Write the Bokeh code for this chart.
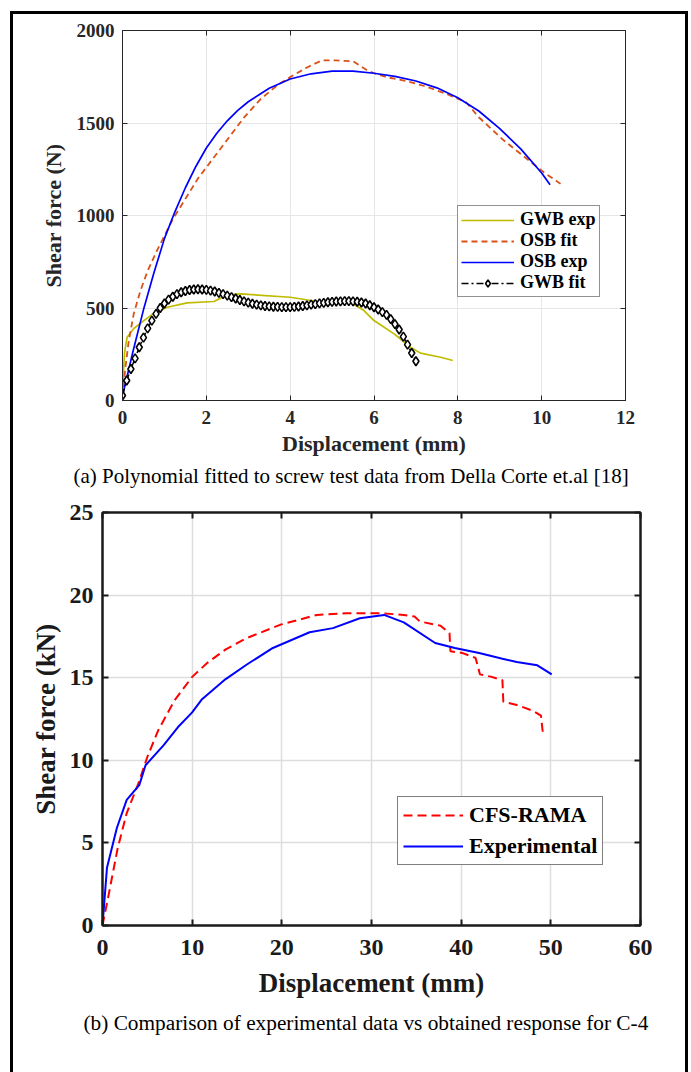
from bokeh.plotting import figure
from bokeh.models import Range1d, FixedTicker, LinearAxis, Legend, LegendItem, Title
from bokeh.layouts import column
from bokeh.embed import file_html
from bokeh.resources import INLINE

FONT = "Liberation Serif"

# ---------------- data: panel (a) ----------------
a_x_ticks = [0, 2, 4, 6, 8, 10, 12]
a_y_ticks = [0, 500, 1000, 1500, 2000]

gwb_exp_x = [0, 0.05, 0.11, 0.27, 0.51, 0.75, 1.07, 1.54, 2.18, 2.5, 2.82, 4.0, 4.65, 5.44, 5.76, 6.0, 6.48, 6.87, 7.11, 7.59, 7.88]
gwb_exp_y = [60, 260, 342, 389, 432, 472, 504, 528, 535, 571, 576, 558, 535, 531, 486, 432, 360, 288, 256, 234, 216]

osb_fit_x = [0, 0.07, 0.15, 0.27, 0.43, 0.6, 0.8, 1.0, 1.2, 1.5, 1.8, 2.0, 2.4, 2.9, 3.3, 3.7, 4.0, 4.4, 4.75, 5.1, 5.5,
             5.8, 6.0, 6.3, 6.8, 7.2, 7.7, 8.2, 8.5, 9.1, 9.7, 10.05, 10.45]
osb_fit_y = [20, 180, 324, 470, 595, 700, 800, 890, 980, 1090, 1200, 1260, 1380, 1530, 1630, 1705, 1748, 1800, 1838, 1838, 1834,
             1790, 1769, 1748, 1725, 1700, 1660, 1612, 1531, 1405, 1297, 1234, 1171]

osb_exp_x = [0, 0.25, 0.5, 0.75, 1.0, 1.25, 1.5, 1.75, 2.0, 2.25, 2.5, 2.75, 3.0, 3.5, 4.0, 4.5, 5.0, 5.5, 6.0, 6.5, 7.0,
             7.5, 8.0, 8.5, 9.0, 9.5, 10.0, 10.2]
osb_exp_y = [25, 265, 490, 690, 875, 1020, 1150, 1265, 1365, 1445, 1512, 1568, 1615, 1688, 1738, 1766, 1780, 1780, 1769,
             1752, 1727, 1690, 1636, 1565, 1470, 1360, 1230, 1166]

gwb_fit_x = [0.0, 0.1, 0.2, 0.3, 0.4, 0.5, 0.6, 0.7, 0.8, 0.9, 1.0, 1.1, 1.2, 1.3, 1.4, 1.5, 1.6, 1.7, 1.8, 1.9, 2.0,
             2.1, 2.2, 2.3, 2.4, 2.5, 2.6, 2.7, 2.8, 2.9, 3.0, 3.1, 3.2, 3.3, 3.4, 3.5, 3.6, 3.7, 3.8, 3.9, 4.0,
             4.1, 4.2, 4.3, 4.4, 4.5, 4.6, 4.7, 4.8, 4.9, 5.0, 5.1, 5.2, 5.3, 5.4, 5.5, 5.6, 5.7, 5.8, 5.9, 6.0,
             6.1, 6.2, 6.3, 6.4, 6.5, 6.6, 6.7, 6.8, 6.9, 7.0]
gwb_fit_y = [27, 108, 170, 228, 288, 340, 390, 432, 468, 500, 524, 545, 561, 575, 585, 592, 597, 600, 601, 600, 598,
             594, 589, 582, 575, 567, 559, 551, 543, 536, 529, 523, 518, 514, 511, 509, 507, 506, 505, 505, 505,
             506, 508, 511, 514, 518, 521, 525, 528, 531, 533, 535, 536, 537, 537, 536, 534, 530, 524, 515, 504,
             492, 478, 463, 440, 413, 384, 345, 302, 257, 212]

# ---------------- data: panel (b) ----------------
b_x_ticks = [0, 10, 20, 30, 40, 50, 60]
b_y_ticks = [0, 5, 10, 15, 20, 25]

exp_x = [0, 0.5, 1.6, 2.7, 4.1, 4.8, 6.8, 8.4, 10.0, 11.1, 13.7, 16.1, 19.0, 23.1, 25.7, 28.7, 31.4, 33.6, 37.1, 39.3,
         42.0, 44.6, 46.2, 48.5, 50.1]
exp_y = [0, 3.5, 5.9, 7.6, 8.5, 9.7, 10.9, 12.0, 12.9, 13.7, 14.9, 15.8, 16.8, 17.75, 18.0, 18.6, 18.8, 18.35, 17.1, 16.8,
         16.5, 16.15, 15.95, 15.75, 15.2]

rama_x = [0, 0.7, 1.7, 2.7, 4.0, 5.0, 6.2, 8.0, 10.0, 11.7, 13.7, 16.1, 19.8, 23.9, 27.1, 31.2, 33.6, 34.8, 35.4, 37.7,
          38.7, 38.8, 40.1, 41.6, 42.1, 43.4, 44.6, 44.7, 46.2, 48.0, 48.9, 49.1]
rama_y = [0, 1.9, 4.7, 6.8, 8.6, 10.2, 11.8, 13.6, 15.05, 15.9, 16.7, 17.4, 18.2, 18.8, 18.9, 18.9, 18.8, 18.7, 18.4, 18.15,
          17.7, 16.6, 16.5, 16.2, 15.2, 15.05, 14.85, 13.55, 13.35, 13.0, 12.7, 11.7]

caption_a = "(a) Polynomial fitted to screw test data from Della Corte et.al [18]"
caption_b = "(b) Comparison of experimental data vs obtained response for C-4"


def frame_axes(p, xt, yt, color, lw, tick_size, label_size, tick_len, xstand, ystand, xlab_stand, ylab_stand):
    p.xaxis.ticker = FixedTicker(ticks=xt)
    p.yaxis.ticker = FixedTicker(ticks=yt)
    p.xgrid.ticker = FixedTicker(ticks=xt)
    p.ygrid.ticker = FixedTicker(ticks=yt)
    for ax in (p.xaxis[0], p.yaxis[0]):
        ax.axis_line_color = color
        ax.axis_line_width = lw
        ax.major_tick_line_color = color
        ax.major_tick_line_width = lw
        ax.major_tick_in = tick_len
        ax.major_tick_out = 0
        ax.minor_tick_line_color = None
        ax.major_label_text_font = FONT
        ax.major_label_text_font_style = "bold"
        ax.major_label_text_font_size = tick_size
        ax.major_label_text_color = color
        ax.axis_label_text_font = FONT
        ax.axis_label_text_font_style = "bold"
        ax.axis_label_text_font_size = label_size
        ax.axis_label_text_color = color
    p.xaxis[0].major_label_standoff = xstand
    p.yaxis[0].major_label_standoff = ystand
    p.xaxis[0].axis_label_standoff = xlab_stand
    p.yaxis[0].axis_label_standoff = ylab_stand
    top = LinearAxis(ticker=FixedTicker(ticks=xt))
    right = LinearAxis(ticker=FixedTicker(ticks=yt))
    for ax in (top, right):
        ax.axis_line_color = color
        ax.axis_line_width = lw
        ax.major_tick_line_color = color
        ax.major_tick_line_width = lw
        ax.major_tick_in = tick_len
        ax.major_tick_out = 0
        ax.minor_tick_line_color = None
        ax.major_label_text_font_size = "1px"
        ax.major_label_text_color = None
        ax.major_label_standoff = 0
    p.add_layout(top, "above")
    p.add_layout(right, "right")
    p.outline_line_color = color
    p.outline_line_width = lw


# ---------------- figure (a) ----------------
p1 = figure(width=672, height=481, output_backend="svg", toolbar_location=None,
            x_range=Range1d(0, 12), y_range=Range1d(0, 2000),
            min_border_left=109, min_border_right=60, min_border_top=16, min_border_bottom=95,
            x_axis_label="Displacement (mm)", y_axis_label="Shear force (N)")
p1.background_fill_color = "white"
p1.border_fill_color = "white"
frame_axes(p1, a_x_ticks, a_y_ticks, "#262626", 1, "19px", "22px", 5, 10, 8, 4, 8)
p1.grid.grid_line_color = "#E6E6E6"
p1.grid.grid_line_width = 1

r_gwb_exp = p1.line(gwb_exp_x, gwb_exp_y, line_color="#BFBC00", line_width=1.7)
r_osb_fit = p1.line(osb_fit_x, osb_fit_y, line_color="#D95319", line_width=1.8, line_dash="6 4")
r_osb_exp = p1.line(osb_exp_x, osb_exp_y, line_color="#0000FF", line_width=1.7)
r_gwb_fit_l = p1.line(gwb_fit_x, gwb_fit_y, line_color="black", line_width=1.5, line_dash="7 3 2 3")
r_gwb_fit_m = p1.scatter(gwb_fit_x, gwb_fit_y, marker="diamond", size=9, fill_color="white",
                         line_color="black", line_width=1.6)

leg1 = Legend(items=[
    LegendItem(label="GWB exp", renderers=[r_gwb_exp]),
    LegendItem(label="OSB fit", renderers=[r_osb_fit]),
    LegendItem(label="OSB exp", renderers=[r_osb_exp]),
    LegendItem(label="GWB fit", renderers=[r_gwb_fit_l, r_gwb_fit_m]),
], location=(335, 103))
leg1.label_text_font = FONT
leg1.label_text_font_style = "bold"
leg1.label_text_font_size = "18px"
leg1.label_text_color = "black"
leg1.glyph_width = 53
leg1.glyph_height = 18
leg1.label_height = 18
leg1.spacing = -4
leg1.padding = 3
leg1.margin = 0
leg1.label_standoff = 6
leg1.border_line_color = "#262626"
leg1.border_line_width = 1
leg1.background_fill_color = "white"
leg1.background_fill_alpha = 1
p1.add_layout(leg1, "center")

p1.add_layout(Title(text=caption_a, align="left", offset=-49, text_font=FONT, text_font_size="21px",
                    text_font_style="normal", text_color="black", standoff=6), "below")

# ---------------- figure (b) ----------------
p2 = figure(width=672, height=577, output_backend="svg", toolbar_location=None,
            x_range=Range1d(0, 60), y_range=Range1d(0, 25),
            min_border_left=89, min_border_right=45, min_border_top=17, min_border_bottom=147,
            x_axis_label="Displacement (mm)", y_axis_label="Shear force (kN)")
p2.background_fill_color = "white"
p2.border_fill_color = "white"
frame_axes(p2, b_x_ticks, b_y_ticks, "#1a1a1a", 2, "24px", "27px", 6, 14, 9, 10, 6)
p2.grid.grid_line_color = "#DDDDDD"
p2.grid.grid_line_width = 1.5

r_rama = p2.line(rama_x, rama_y, line_color="#FF0000", line_width=2, line_dash="9 5")
r_exp = p2.line(exp_x, exp_y, line_color="#0000FF", line_width=2)

leg2 = Legend(items=[
    LegendItem(label="CFS-RAMA", renderers=[r_rama]),
    LegendItem(label="Experimental", renderers=[r_exp]),
], location=(295, 60))
leg2.label_text_font = FONT
leg2.label_text_font_style = "bold"
leg2.label_text_font_size = "22px"
leg2.label_text_color = "black"
leg2.glyph_width = 60
leg2.glyph_height = 24
leg2.label_height = 24
leg2.spacing = 5
leg2.padding = 5
leg2.margin = 0
leg2.label_standoff = 6
leg2.border_line_color = "black"
leg2.border_line_width = 1.5
leg2.background_fill_color = "white"
leg2.background_fill_alpha = 1
p2.add_layout(leg2, "center")

p2.add_layout(Title(text=caption_b, align="left", offset=-19, text_font=FONT, text_font_size="21.3px",
                    text_font_style="normal", text_color="black", standoff=17), "below")

for p in (p1, p2):
    try:
        p.frame_align = False
    except Exception:
        pass

layout = column(p1, p2, margin=(11, 0, 0, 10), spacing=0,
                styles={"border-top": "3px solid black", "border-left": "3px solid black",
                        "border-right": "3px solid black"})

open("out.html", "w").write(file_html(layout, INLINE))
